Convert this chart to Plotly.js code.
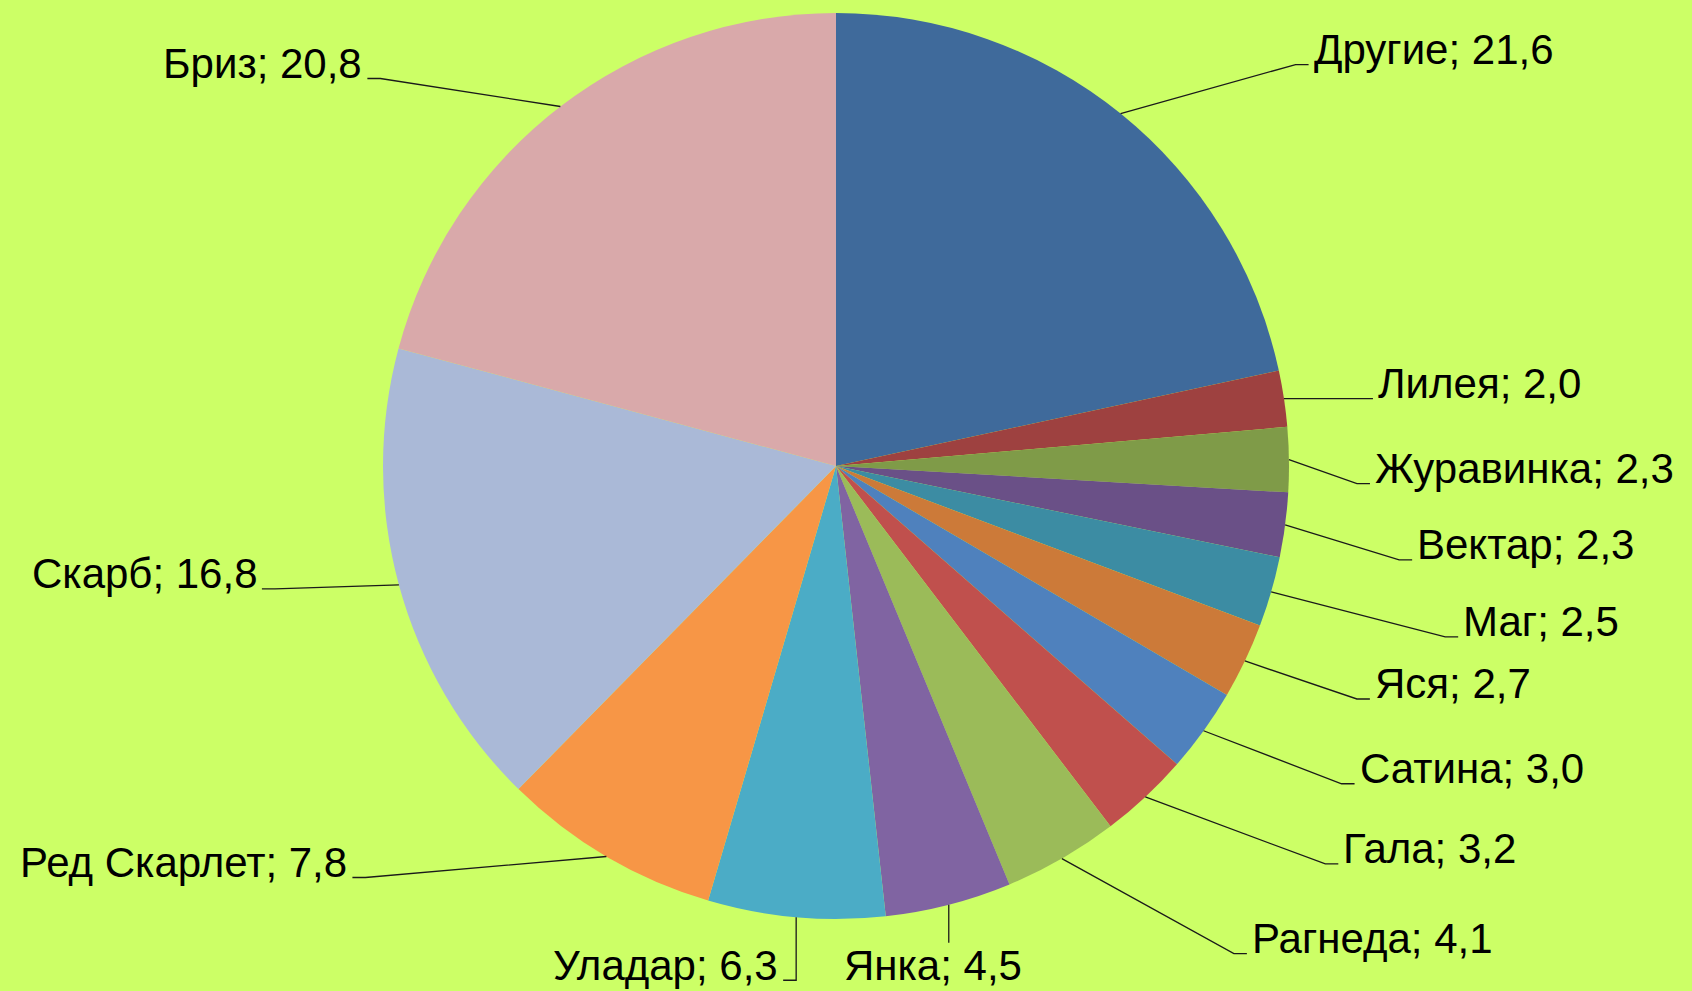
<!DOCTYPE html>
<html>
<head>
<meta charset="utf-8">
<script src="https://cdn.plot.ly/plotly-3.0.1.min.js"></script>
<style>html,body{margin:0;padding:0;background:#CCFF66;}#chart{width:1692px;height:991px;}</style>
</head>
<body>
<div id="chart"></div>
<script>
// ---- data ----
var categories = ["Другие", "Лилея", "Журавинка", "Вектар", "Маг", "Яся", "Сатина", "Гала", "Рагнеда", "Янка", "Уладар", "Ред Скарлет", "Скарб", "Бриз"];
var shares = [21.6, 2.0, 2.3, 2.3, 2.5, 2.7, 3.0, 3.2, 4.1, 4.5, 6.3, 7.8, 16.8, 20.8];
var valueLabels = ["21,6", "2,0", "2,3", "2,3", "2,5", "2,7", "3,0", "3,2", "4,1", "4,5", "6,3", "7,8", "16,8", "20,8"];

// ---- style / layout ----
var sliceColors = ["#3F6A9B", "#9E4140", "#7F9B48", "#6A5087", "#3C8CA3", "#CC7A39", "#4F81BD", "#C0504D", "#9BBB59", "#8064A2", "#4BACC6", "#F79646", "#AAB9D7", "#D9A9AA"];
var W = 1692, H = 991;
var CX = 836, CY = 466, R = 453;
// leader-line elbow offsets (px from slice rim point) and label side
var labelOffsets = [[175,-49],[76,0],[68,24],[114,35],[174,45],[112,38],[138,53],[180,67],[172,95],[0,38],[0,63],[-241,21],[-124,4],[-180,-28]];
var labelSide = ["right","right","right","right","right","right","right","right","right","below","left","left","left","left"];
var FONT = 42, HSEG = 13, GAP = 3;

function px(x){ return x / W; }
function py(y){ return 1 - y / H; }

var total = shares.reduce(function(a,b){return a+b;}, 0);
var shapes = [], annotations = [];
var cum = 0;
for (var i = 0; i < shares.length; i++) {
  var mid = (cum + shares[i] / 2) / total * 2 * Math.PI;
  cum += shares[i];
  var rx = CX + R * Math.sin(mid), ry = CY - R * Math.cos(mid);
  var ex = rx + labelOffsets[i][0], ey = ry + labelOffsets[i][1];
  var txt = categories[i] + "; " + valueLabels[i];
  var path, ann;
  if (labelSide[i] === "right") {
    path = "M" + px(rx) + "," + py(ry) + " L" + px(ex) + "," + py(ey) + " L" + px(ex + HSEG) + "," + py(ey);
    ann = {x: px(ex + HSEG + GAP), y: py(ey - 15), xanchor: "left", yanchor: "middle"};
  } else if (labelSide[i] === "left") {
    path = "M" + px(rx) + "," + py(ry) + " L" + px(ex) + "," + py(ey) + " L" + px(ex - HSEG) + "," + py(ey);
    ann = {x: px(ex - HSEG - GAP), y: py(ey - 15), xanchor: "right", yanchor: "middle"};
  } else {
    path = "M" + px(rx) + "," + py(ry) + " L" + px(ex) + "," + py(ey);
    ann = {x: px(ex - 16), y: py(ey + 23), xanchor: "center", yanchor: "middle"};
  }
  shapes.push({type: "path", xref: "paper", yref: "paper", path: path, line: {color: "#1a1a1a", width: 1.3}});
  ann.text = txt;
  ann.xref = "paper"; ann.yref = "paper";
  ann.showarrow = false;
  ann.font = {family: "Liberation Sans, Arial, sans-serif", size: FONT, color: "#000000"};
  annotations.push(ann);
}

var trace = {
  type: "pie",
  labels: categories,
  values: shares,
  sort: false,
  direction: "clockwise",
  rotation: 0,
  textinfo: "none",
  hoverinfo: "label+value",
  marker: {colors: sliceColors, line: {width: 0}},
  domain: {x: [(CX - R) / W, (CX + R) / W], y: [1 - (CY + R) / H, 1 - (CY - R) / H]},
  showlegend: false
};

var layout = {
  width: W, height: H,
  margin: {l: 0, r: 0, t: 0, b: 0},
  paper_bgcolor: "#CCFF66",
  plot_bgcolor: "#CCFF66",
  showlegend: false,
  shapes: shapes,
  annotations: annotations
};

Plotly.newPlot("chart", [trace], layout, {displayModeBar: false, staticPlot: true});
</script>
</body>
</html>
